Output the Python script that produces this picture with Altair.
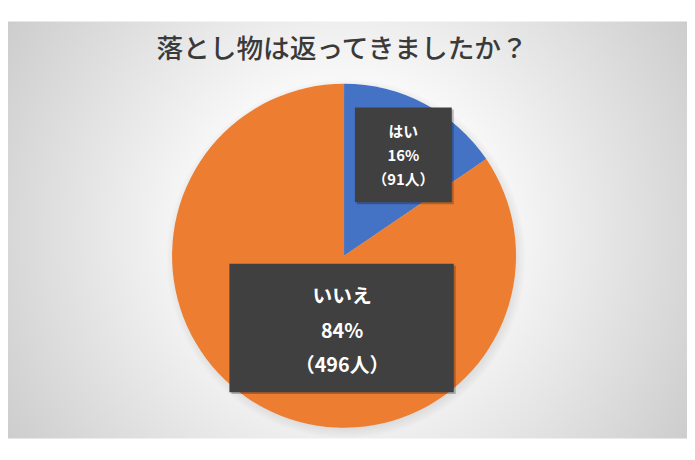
import altair as alt
import pandas as pd
import math

# ---- data ----
categories = ["はい", "いいえ"]
counts = [91, 496]
percents = ["16%", "84%"]
colors = ["#4472C4", "#ED7D31"]
title_text = "落とし物は返ってきましたか？"

df = pd.DataFrame({
    "category": categories,
    "count": counts,
    "percent": percents,
    "order": list(range(len(categories))),
})
df["label"] = df["category"] + "\n" + df["percent"] + "\n（" + df["count"].astype(str) + "人）"

one = pd.DataFrame({"k": [0]})
FONT = "Noto Sans CJK JP"

W, H = 687, 452
CX, CY, R = 340, 248, 174

# background radial gradient panel
bg = alt.Chart(one).mark_rect(
    fill={
        "gradient": "radial",
        "x1": 0.5, "y1": 0.5, "r1": 0,
        "x2": 0.5, "y2": 0.5, "r2": 0.72,
        "stops": [
            {"offset": 0, "color": "#ffffff"},
            {"offset": 0.3, "color": "#f9f9f9"},
            {"offset": 1, "color": "#bdbdbd"},
        ],
    },
).encode(x=alt.value(0), x2=alt.value(W), y=alt.value(11), y2=alt.value(433))

# soft shadow behind pie
shadow = alt.Chart(one).mark_arc(
    theta=0, theta2=2 * math.pi, outerRadius=R + 8,
    fill={
        "gradient": "radial",
        "x1": 0.5, "y1": 0.5, "r1": 0,
        "x2": 0.5, "y2": 0.5, "r2": 0.5,
        "stops": [
            {"offset": 0.85, "color": "rgba(0,0,0,0.22)"},
            {"offset": 1, "color": "rgba(0,0,0,0)"},
        ],
    },
).encode(x=alt.value(CX + 2), y=alt.value(CY + 3))

pie = alt.Chart(df).mark_arc(outerRadius=R).encode(
    theta=alt.Theta("count:Q", stack=True),
    order=alt.Order("order:Q"),
    color=alt.Color("category:N", scale=alt.Scale(domain=categories, range=colors), legend=None),
    x=alt.value(CX), y=alt.value(CY),
)

def box(cat, x0, y0, x1, y1):
    base = alt.Chart(df).transform_filter(alt.datum.category == cat)
    sh = base.mark_rect(color="#000000", opacity=0.25).encode(
        x=alt.value(x0 + 2), x2=alt.value(x1 + 2), y=alt.value(y0 + 2), y2=alt.value(y1 + 2))
    bx = base.mark_rect(color="#404040").encode(
        x=alt.value(x0), x2=alt.value(x1), y=alt.value(y0), y2=alt.value(y1))
    return sh + bx

box_yes = box("はい", 351, 98, 449, 194)
box_no = box("いいえ", 224, 256, 451, 386)

text_yes = alt.Chart(df).transform_filter(alt.datum.category == "はい").mark_text(
    lineBreak="\n", lineHeight=24, font=FONT, fontSize=15, fontWeight="bold",
    color="#ffffff", align="center", baseline="middle",
).encode(text="label:N", x=alt.value(400), y=alt.value(123))

text_no = alt.Chart(df).transform_filter(alt.datum.category == "いいえ").mark_text(
    lineBreak="\n", lineHeight=35, font=FONT, fontSize=20, fontWeight="bold",
    color="#ffffff", align="center", baseline="middle",
).encode(text="label:N", x=alt.value(338), y=alt.value(290))

title = alt.Chart(pd.DataFrame({"t": [title_text]})).mark_text(
    font=FONT, fontSize=27, fontWeight=500, color="#3a3a3a", align="center", baseline="middle",
).encode(text="t:N", x=alt.value(338), y=alt.value(40))

chart = alt.layer(bg, shadow, pie, box_yes, box_no, text_yes, text_no, title).properties(
    width=W, height=H, padding=0, autosize=alt.AutoSizeParams(type="none"),
    background="#ffffff",
).configure_view(stroke=None)

chart.save("out.html", embed_options={"renderer": "svg", "actions": False})
